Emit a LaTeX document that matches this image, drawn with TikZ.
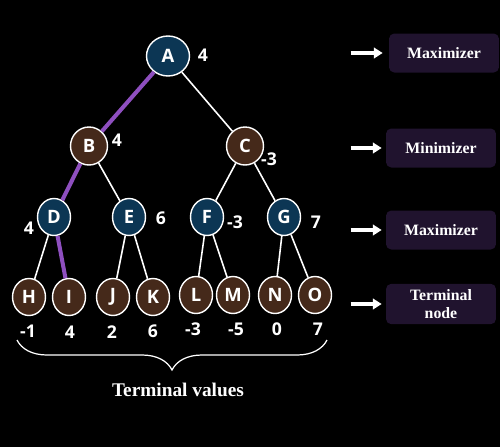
\documentclass[tikz,border=0pt]{standalone}
\usepackage{fontspec}
\setmainfont{Liberation Serif}
\newfontfamily\nodefont{Open Sans}
\usepackage{xcolor}
\usetikzlibrary{arrows.meta,positioning,shapes.geometric,decorations.pathreplacing}
\definecolor{maxblue}{HTML}{0C3654}
\definecolor{minbrown}{HTML}{45291A}
\definecolor{boxpurple}{HTML}{20132E}
\definecolor{pathpurple}{HTML}{8E4FBF}

\begin{document}
\begin{tikzpicture}[
  x=0.02cm, y=-0.02cm,
  maxnode/.style={ellipse, draw=white, line width=0.8pt, fill=maxblue, text=white, font=\nodefont\bfseries\fontsize{10.5}{12}\selectfont, minimum width=0.66cm, minimum height=0.74cm, inner sep=0pt},
  minnode/.style={maxnode, fill=minbrown},
  rootnode/.style={maxnode, minimum width=0.86cm, minimum height=0.8cm},
  midnode/.style={minnode, minimum width=0.74cm, minimum height=0.76cm},
  val/.style={text=white, font=\nodefont\bfseries\fontsize{10}{12}\selectfont, inner sep=0pt},
  edge/.style={white, line width=0.9pt},
  best/.style={pathpurple, line width=2.3pt},
  levelbox/.style={rectangle, rounded corners=3pt, fill=boxpurple, text=white, font=\bfseries\fontsize{9}{10}\selectfont, align=center, minimum width=2.2cm, minimum height=0.78cm},
  arrow/.style={-{Triangle[length=5pt,width=6pt]}, white, line width=1.8pt}
]
\fill[black] (0,0) rectangle (500,447);
\useasboundingbox (0,0) rectangle (500,447);

% game tree
\node[rootnode] (A) at (168,56) {A};
\node[midnode] (B) at (89,146) {B};
\node[midnode] (C) at (245,146) {C};
\node[maxnode] (D) at (54,217) {D};
\node[maxnode] (E) at (129,217) {E};
\node[maxnode] (F) at (207,217) {F};
\node[maxnode] (G) at (284,217) {G};
\node[minnode] (H) at (29,297) {H};
\node[minnode] (I) at (69,297) {I};
\node[minnode] (J) at (113,297) {J};
\node[minnode] (K) at (153,297) {K};
\node[minnode] (L) at (196,295) {L};
\node[minnode] (M) at (233,295) {M};
\node[minnode] (N) at (275,295) {N};
\node[minnode] (O) at (315,295) {O};

\draw[best] (A) -- (B);
\draw[edge] (A) -- (C);
\draw[best] (B) -- (D);
\draw[edge] (B) -- (E);
\draw[edge] (C) -- (F);
\draw[edge] (C) -- (G);
\draw[edge] (D) -- (H);
\draw[best] (D) -- (I);
\draw[edge] (E) -- (J);
\draw[edge] (E) -- (K);
\draw[edge] (F) -- (L);
\draw[edge] (F) -- (M);
\draw[edge] (G) -- (N);
\draw[edge] (G) -- (O);

% backed-up values
\node[val] (vA) at (203,55) {4};
\node[val] (vB) at (117,140) {4};
\node[val] (vC) at (269,159) {-3};
\node[val] (vD) at (29,228) {4};
\node[val] (vE) at (161,218) {6};
\node[val] (vF) at (235,222) {-3};
\node[val] (vG) at (316,222) {7};

% terminal values
\node[val] (vH) at (28,331) {-1};
\node[val] (vI) at (70,332) {4};
\node[val] (vJ) at (112,332) {2};
\node[val] (vK) at (153,331) {6};
\node[val] (vL) at (193,329) {-3};
\node[val] (vM) at (236,329) {-5};
\node[val] (vN) at (277,329) {0};
\node[val] (vO) at (318,329) {7};

\coordinate (braceL) at (17,340);
\coordinate (braceR) at (327,340);
\draw[white, line width=0.7pt, decorate, decoration={brace, mirror, amplitude=0.6cm, aspect=0.5}] (braceL) -- (braceR);
\node[text=white, font=\bfseries\fontsize{11}{13}\selectfont] (tv) at (178,390) {Terminal values};

% level labels
\node[levelbox] (l1) at (444,53) {Maximizer};
\node[levelbox] (l2) at (441,148) {Minimizer};
\node[levelbox] (l3) at (441,230) {Maximizer};
\node[levelbox] (l4) at (441,304) {Terminal\\node};
\coordinate[left=0.76cm of l1.west] (a1);
\coordinate[left=0.7cm of l2.west] (a2);
\coordinate[left=0.7cm of l3.west] (a3);
\coordinate[left=0.7cm of l4.west] (a4);
\draw[arrow] (a1) -- ++(0.64cm,0) coordinate (b1);
\draw[arrow] (a2) -- ++(0.62cm,0) coordinate (b2);
\draw[arrow] (a3) -- ++(0.62cm,0) coordinate (b3);
\draw[arrow] (a4) -- ++(0.62cm,0) coordinate (b4);
\end{tikzpicture}
\end{document}
